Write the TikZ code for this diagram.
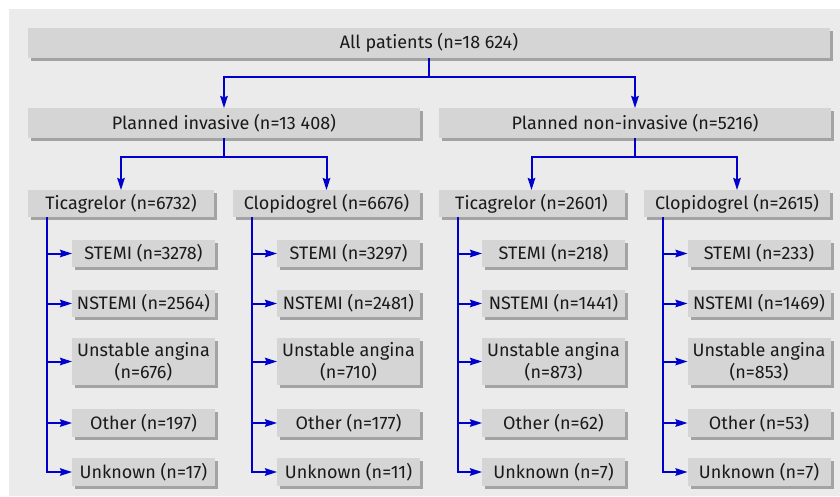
\documentclass[tikz,border=0pt]{standalone}
\usepackage{fontspec}
\setmainfont{Fira Sans}
\usetikzlibrary{arrows.meta,shadows}
\definecolor{bgc}{HTML}{EBEBEB}
\definecolor{boxc}{HTML}{D5D5D5}
\definecolor{shc}{HTML}{A3A3A3}
\definecolor{linec}{RGB}{0,0,204}
\definecolor{txtc}{HTML}{1A1A1A}
\begin{document}
\begin{tikzpicture}[x=1pt,y=-1pt,
  box/.style={fill=boxc, inner sep=0pt, outer sep=0pt, text=txtc, align=center,
    font=\fontsize{18}{21.7}\selectfont,
    general shadow={fill=shc, shadow xshift=3pt, shadow yshift=-3pt}},
  conn/.style={draw=linec, line width=2pt, -{Stealth[length=12pt,width=7.5pt,inset=1.5pt]}}]
\useasboundingbox (0,0) rectangle (840,496);
\fill[bgc] (9,9) rectangle (840,496);
% level 1
\node[box, minimum width=802, minimum height=30] (top) at (429,43) {All patients (n=18 624)};
% level 2
\node[box, minimum width=392, minimum height=30] (inv) at (224,123) {Planned invasive (n=13 408)};
\node[box, minimum width=392, minimum height=30] (non) at (635,123) {Planned non-invasive (n=5216)};
% level 3
\node[box, minimum width=186, minimum height=27] (t1) at (121,203.5) {Ticagrelor (n=6732)};
\node[box, minimum width=187, minimum height=27] (c1) at (326.5,203.5) {Clopidogrel (n=6676)};
\node[box, minimum width=186, minimum height=27] (t2) at (531.5,203.5) {Ticagrelor (n=2601)};
\node[box, minimum width=186, minimum height=27] (c2) at (737,203.5) {Clopidogrel (n=2615)};
% level 4
\foreach \col/\cx/\a/\b/\c/\d/\e in {
  A/143.5/3278/2564/676/197/17,
  B/348.5/3297/2481/710/177/11,
  C/553.5/218/1441/873/62/7,
  D/759/233/1469/853/53/7}{
  \node[box, minimum width=143, minimum height=27] (\col1) at (\cx,253.5) {STEMI (n=\a)};
  \node[box, minimum width=143, minimum height=27] (\col2) at (\cx,303.5) {NSTEMI (n=\b)};
  \node[box, minimum width=143, minimum height=47] (\col3) at (\cx,361.5) {Unstable angina\\(n=\c)};
  \node[box, minimum width=143, minimum height=28] (\col4) at (\cx,423) {Other (n=\d)};
  \node[box, minimum width=143, minimum height=28] (\col5) at (\cx,472) {Unknown (n=\e)};
}
% connectors level 1-2
\draw[conn] (top.south) -- ++(0,19) -| (inv.north);
\draw[conn] (top.south) -- ++(0,19) -| (non.north);
% level 2-3
\draw[conn] (inv.south) -- ++(0,19) -| (t1.north);
\draw[conn] (inv.south) -- ++(0,19) -| (c1.north);
\draw[conn] (non.south) -- ++(0,19) -| (t2.north);
\draw[conn] (non.south) -- ++(0,19) -| (c2.north);
% level 3-4
\foreach \p/\col in {t1/A, c1/B, t2/C, c2/D}{
  \foreach \r in {1,...,5}{
    \draw[conn] (\p.south west) ++(19,0) |- (\col\r.west);
  }
}
\end{tikzpicture}
\end{document}
